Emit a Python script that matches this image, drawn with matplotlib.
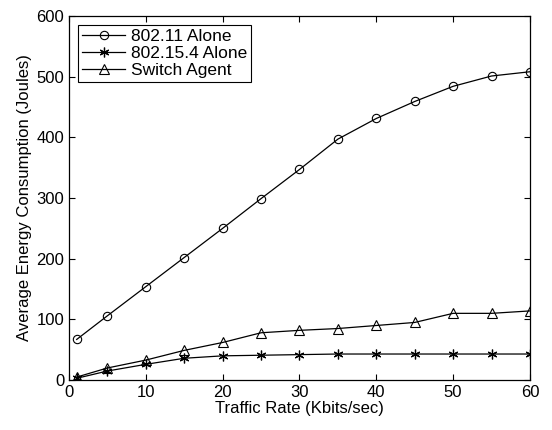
import numpy as np
import matplotlib.pyplot as plt

plt.rcParams['font.family'] = ['Liberation Sans', 'DejaVu Sans']

rate = [1, 5, 10, 15, 20, 25, 30, 35, 40, 45, 50, 55, 60]
wifi = [67, 106, 154, 202, 250, 299, 347, 397, 431, 459, 484, 501, 508]
zigbee = [3, 15, 26, 36, 40, 41, 42, 43, 43, 43, 43, 43, 43]
switch = [5, 20, 33, 49, 62, 78, 82, 85, 90, 95, 110, 110, 114]

fig = plt.figure(figsize=(5.52, 4.30), dpi=100)
ax = fig.add_axes([0.125, 0.116, 0.835, 0.847])

ax.plot(rate, wifi, 'k-', marker='o', mfc='none', ms=6, lw=0.9, mew=0.8, label='802.11 Alone')
ax.plot(rate, zigbee, 'k-', marker=(6, 2, 0), ms=7, lw=0.9, mew=0.9, label='802.15.4 Alone')
ax.plot(rate, switch, 'k-', marker='^', mfc='none', ms=7, lw=0.9, mew=0.8, label='Switch Agent')

ax.set_xlim(0, 60)
ax.set_ylim(0, 600)
ax.set_xticks(range(0, 61, 10))
ax.set_yticks(range(0, 601, 100))
ax.tick_params(direction='in', top=True, right=True, labelsize=12, length=4, width=0.8)
for s in ax.spines.values():
    s.set_linewidth(0.9)

ax.set_xlabel('Traffic Rate (Kbits/sec)', fontsize=12, labelpad=1)
ax.set_ylabel('Average Energy Consumption (Joules)', fontsize=12, labelpad=3)

leg = ax.legend(loc='upper left', fontsize=12.5, fancybox=False, edgecolor='black',
                framealpha=1, borderaxespad=0.5, handlelength=2.5, labelspacing=0.1,
                borderpad=0.25, handletextpad=0.3)
leg.get_frame().set_linewidth(0.8)

fig.savefig('out.png', dpi=100)
